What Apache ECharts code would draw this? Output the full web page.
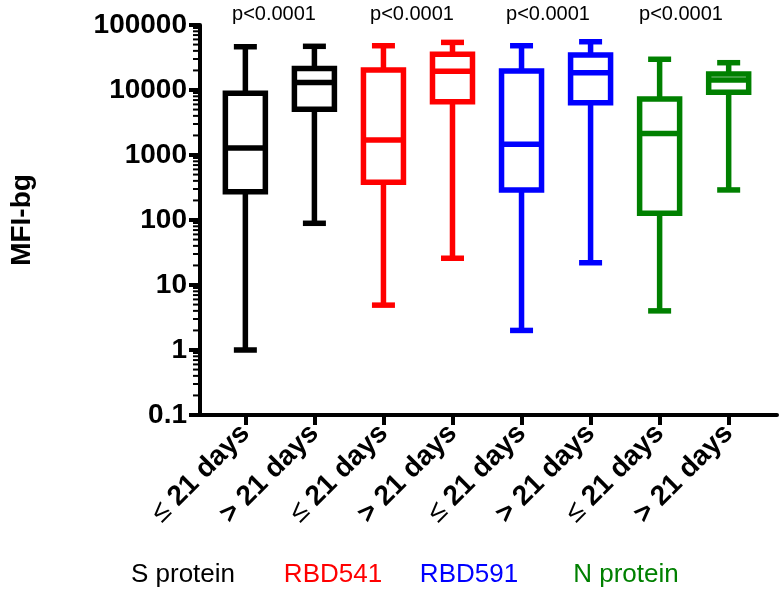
<!DOCTYPE html>
<html><head><meta charset="utf-8">
<script src="https://cdn.jsdelivr.net/npm/echarts@6/dist/echarts.min.js"></script>
<style>html,body{margin:0;padding:0;background:#fff}#c{width:780px;height:593px}</style>
</head><body><div id="c"></div>
<script>
const categories = ['≤ 21 days','> 21 days','≤ 21 days','> 21 days','≤ 21 days','> 21 days','≤ 21 days','> 21 days'];
const groups = ['S protein','RBD541','RBD591','N protein'];
const lowWhisker  = [1,    89,    4.9,   25.8,  2,     22,    4,     290];
const q1          = [272,  5050,  380,   6600,  290,   6380,  127,   9200];
const median      = [1280, 13100, 1700,  19400, 1460,  18500, 2150,  14300];
const q3          = [8900, 21500, 20300, 35400, 19600, 34600, 7270,  17600];
const highWhisker = [46300,47000, 48000, 54000, 48000, 55300, 29700, 26300];
const pValues = ['p<0.0001','p<0.0001','p<0.0001','p<0.0001'];
const yTickValues = [0.1, 1, 10, 100, 1000, 10000, 100000];

const groupColors = ['#000000','#ff0000','#0000ff','#008000'];
const FONT = '"Liberation Sans", Arial, sans-serif';

const boxData = categories.map((c, i) => [i, lowWhisker[i], q1[i], median[i], q3[i], highWhisker[i]]);
const minorTickValues = [];
yTickValues.slice(0, -1).forEach(d => { for (let m = 2; m <= 9; m++) minorTickValues.push([0, +(d * m).toPrecision(6)]); });

const chart = echarts.init(document.getElementById('c'), null, {renderer: 'canvas'});
chart.setOption({
  animation: false,
  backgroundColor: '#ffffff',
  grid: {left: 192, right: 3, top: 25, bottom: 178, containLabel: false},
  xAxis: {
    type: 'value', min: -0.657, max: 7.7,
    axisLine: {show: true, onZero: false, lineStyle: {color: '#000', width: 4}},
    axisTick: {show: true, customValues: categories.map((c, i) => i), length: 10, lineStyle: {color: '#000', width: 4}},
    axisLabel: {
      show: true, customValues: categories.map((c, i) => i), rotate: 45, margin: 14,
      formatter: v => {
        const s = categories[Math.round(v)] || '';
        return s.startsWith('≤') ? '{le|≤}' + s.slice(1) : s;
      },
      color: '#000', fontSize: 28, fontWeight: 'bold', fontFamily: FONT,
      rich: {le: {fontSize: 28, fontWeight: 'normal', fontFamily: FONT, color: '#000'}}
    },
    splitLine: {show: false}
  },
  yAxis: {
    type: 'log', logBase: 10, min: 0.1, max: 100000,
    name: 'MFI-bg', nameLocation: 'middle', nameRotate: 90, nameGap: 164,
    nameTextStyle: {color: '#000', fontSize: 28, fontWeight: 'bold', fontFamily: FONT},
    axisLine: {show: true, onZero: false, lineStyle: {color: '#000', width: 4}},
    axisTick: {show: true, length: 11, lineStyle: {color: '#000', width: 4}},
    axisLabel: {
      color: '#000', fontSize: 28, fontWeight: 'bold', fontFamily: FONT, margin: 13,
      formatter: v => String(+(+v).toPrecision(6))
    },
    splitLine: {show: false}
  },
  series: [
    {
      type: 'custom', name: 'minor ticks', silent: true, clip: false,
      data: minorTickValues, encode: {x: 0, y: 1},
      renderItem: (params, api) => {
        const y = api.coord([0, api.value(1)])[1];
        const x0 = params.coordSys.x - 2;
        return {type: 'line', shape: {x1: x0 - 5, y1: y, x2: x0, y2: y},
                style: {stroke: '#000', lineWidth: 2}};
      }
    },
    {
      type: 'custom', name: 'boxes', silent: true, clip: false,
      data: boxData, encode: {x: 0, y: [1, 2, 3, 4, 5]},
      renderItem: (params, api) => {
        const i = api.value(0);
        const cx = api.coord([i, api.value(1)])[0];
        const yMin = api.coord([i, api.value(1)])[1];
        const yQ1 = api.coord([i, api.value(2)])[1];
        const yMed = api.coord([i, api.value(3)])[1];
        const yQ3 = api.coord([i, api.value(4)])[1];
        const yMax = api.coord([i, api.value(5)])[1];
        const col = groupColors[Math.floor(i / 2)];
        const hw = 20, cw = 11.5, lw = 5.5;
        const st = {stroke: col, lineWidth: lw, fill: null};
        return {type: 'group', children: [
          {type: 'line', shape: {x1: cx, y1: yMin, x2: cx, y2: yQ1}, style: st},
          {type: 'line', shape: {x1: cx, y1: yQ3, x2: cx, y2: yMax}, style: st},
          {type: 'line', shape: {x1: cx - cw, y1: yMin, x2: cx + cw, y2: yMin}, style: st},
          {type: 'line', shape: {x1: cx - cw, y1: yMax, x2: cx + cw, y2: yMax}, style: st},
          {type: 'rect', shape: {x: cx - hw, y: yQ3, width: 2 * hw, height: yQ1 - yQ3}, style: {stroke: col, lineWidth: lw, fill: '#fff'}},
          {type: 'line', shape: {x1: cx - hw, y1: yMed, x2: cx + hw, y2: yMed}, style: st}
        ]};
      }
    }
  ],
  graphic: [
    ...pValues.map((p, k) => ({
      type: 'text', x: [274, 412, 548, 681][k], y: 14, silent: true,
      style: {text: p, fill: '#000', fontSize: 20, fontFamily: FONT, align: 'center', verticalAlign: 'middle'}
    })),
    ...groups.map((g, k) => ({
      type: 'text', x: [183, 333, 469, 626][k], y: 575, silent: true,
      style: {text: g, fill: groupColors[k], fontSize: 26, fontFamily: FONT, align: 'center', verticalAlign: 'middle'}
    }))
  ]
});
</script>
</body></html>
